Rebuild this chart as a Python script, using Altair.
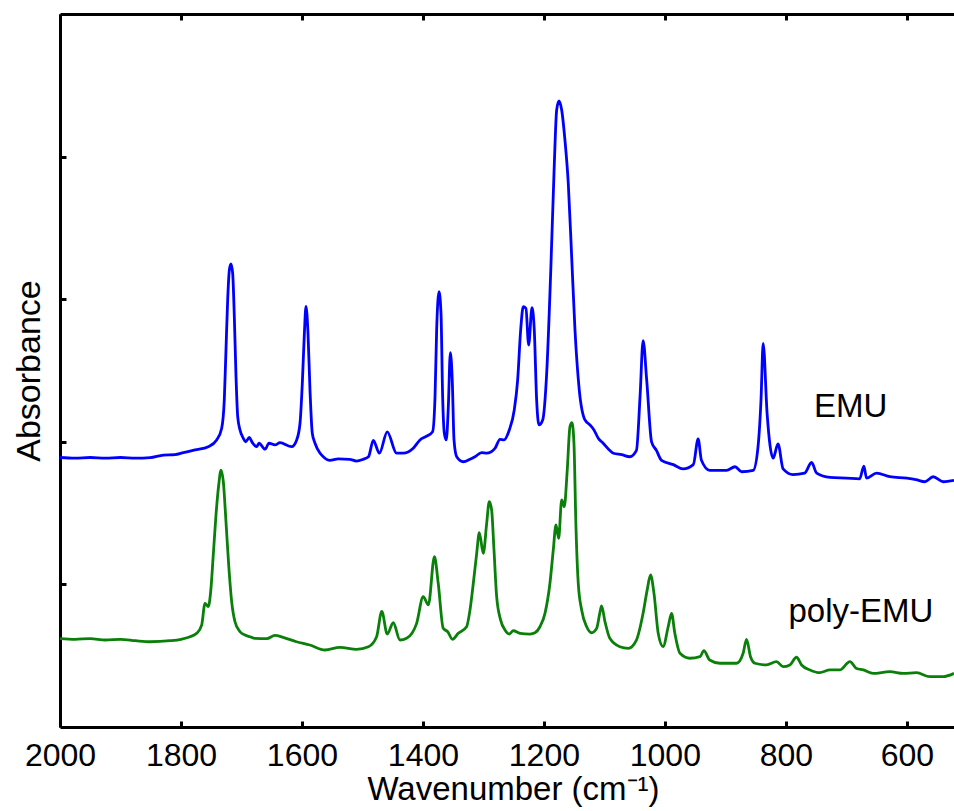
import altair as alt
import pandas as pd

# ---------------- data ----------------
emu_wn = [2000, 1975, 1950, 1925, 1900, 1875, 1851, 1829, 1810, 1796, 1776.8, 1754.8, 1741,
          1732.7, 1728.4, 1725.6, 1722.8, 1720, 1717.3, 1714.5, 1711.8, 1709, 1706.2, 1702.4,
          1697, 1693, 1687, 1682, 1674.8, 1671, 1661, 1654.5, 1644.6, 1636.3, 1617, 1608.7,
          1603.2, 1599.4, 1596, 1593.3, 1590, 1586.7, 1582.9, 1578.4, 1570, 1564.7, 1554, 1540,
          1521, 1510, 1499, 1490, 1482, 1472, 1459, 1443.6, 1432.5, 1416, 1404.9, 1393.8, 1384,
          1380, 1377.3, 1373.4, 1370.1, 1367.4, 1364.6, 1361.4, 1358, 1354.7, 1351.5, 1348.6,
          1344.2, 1333.2, 1322.2, 1314, 1302.9, 1294.6, 1280.9, 1272.6, 1266, 1257.2, 1249,
          1243.4, 1238.4, 1234.1, 1229.7, 1225.2, 1219.7, 1215.9, 1212, 1208.1, 1202, 1195.4,
          1188.8, 1183.3, 1178.9, 1175, 1170.6, 1165.2, 1159.7, 1154.1, 1148.6, 1141.5, 1132.1,
          1123.8, 1117.2, 1110.1, 1102, 1085, 1071.6, 1058, 1047, 1041, 1036, 1030, 1022, 1014,
          1005.5, 986, 970, 953, 945, 939.5, 926, 910, 898, 884, 873, 854, 846, 841, 837.5, 831,
          821, 813, 804.5, 788, 769, 757.5, 749, 727, 700, 678, 671, 666.6, 650, 628, 600, 585,
          570, 556.5, 540, 522]
emu_abs = [1.89, 1.885, 1.89, 1.885, 1.89, 1.885, 1.889, 1.907, 1.91, 1.924, 1.943, 1.966, 2.013,
           2.095, 2.293, 2.644, 2.994, 3.205, 3.247, 3.18, 2.877, 2.456, 2.176, 2.083,
           2.025, 2.0, 2.03, 1.994, 1.966, 1.99, 1.948, 1.99, 1.978, 1.994, 1.966, 2.013,
           2.13, 2.41, 2.76, 2.95, 2.76, 2.363, 2.06, 1.99, 1.92, 1.895, 1.87, 1.88,
           1.877, 1.865, 1.877, 1.895, 2.01, 1.92, 2.07, 1.92, 1.92, 1.955, 2.013, 2.04, 2.071,
           2.316, 2.784, 3.053, 2.9, 2.316, 2.06, 2.013, 2.246, 2.625, 2.433, 2.013,
           1.895, 1.86, 1.877, 1.895, 1.924, 1.92, 1.954, 2.017, 2.013, 2.083, 2.223,
           2.433, 2.784, 2.947, 2.936, 2.679, 2.94, 2.784, 2.293, 2.118, 2.153, 2.48,
           3.182, 3.883, 4.327, 4.39, 4.327, 4.116, 3.813, 3.298, 2.784, 2.363, 2.153,
           2.118, 2.083, 2.025, 1.99, 1.92, 1.91, 1.895, 1.94, 2.32, 2.71, 2.43, 2.00, 1.94,
           1.87, 1.84, 1.81, 1.84, 2.02, 1.87, 1.80, 1.80, 1.80, 1.825, 1.79, 1.80, 1.965, 2.30, 2.69, 2.20,
           1.885, 1.985, 1.81, 1.77, 1.78, 1.855, 1.78, 1.75, 1.745, 1.74, 1.83, 1.745, 1.78, 1.755, 1.745, 1.735,
           1.72, 1.755, 1.72, 1.73]

poly_wn = [2000, 1975, 1950, 1925, 1900, 1875, 1851, 1818, 1800, 1785, 1774, 1765.8, 1760.3,
           1754.8, 1750.9, 1746.6, 1742.1, 1737.6, 1733.8, 1730, 1725.6, 1721.1, 1716.2, 1710.7,
           1702.4, 1694.2, 1685.9, 1677.6, 1658, 1644.6, 1631, 1609, 1587, 1562, 1537, 1509.6,
           1490, 1476.6, 1468, 1459, 1449, 1438, 1427, 1410.4, 1399.5, 1391, 1381, 1374.7, 1366.4,
           1359, 1351, 1341.6, 1327.8, 1322.2, 1316.7, 1311.1, 1306.8, 1300.2, 1294.6, 1290.3,
           1286.4, 1282.5, 1278.1, 1271.5, 1264.3, 1257.2, 1250.6, 1239.5, 1223, 1214.7, 1206.5,
           1198.2, 1190, 1184.5, 1180, 1175.6, 1170.6, 1166.3, 1161.4, 1156.9, 1153.6, 1150.3,
           1147, 1143.2, 1137.6, 1129.3, 1121.1, 1112.8, 1107.5, 1104.6, 1099, 1091, 1074.4,
           1060.7, 1047, 1036, 1029.3, 1023.7, 1018, 1011, 1003, 994.5, 989, 983.5, 975, 958.7,
           942, 935.5, 926, 909, 881.5, 870.6, 865, 858.4, 851, 832, 815.5, 804.5, 793.4, 782.4,
           774, 760, 744, 727, 711, 694, 683, 672, 655.7, 628, 606, 584, 562, 540, 522]
poly_abs = [0.62, 0.615, 0.62, 0.61, 0.615, 0.605, 0.598, 0.605, 0.615, 0.633, 0.657, 0.715, 0.867,
            0.844, 0.949, 1.206, 1.487, 1.697, 1.802, 1.72, 1.44, 1.136, 0.879, 0.738,
            0.668, 0.645, 0.633, 0.622, 0.62, 0.643, 0.629, 0.598, 0.575, 0.54, 0.559, 0.545,
            0.563, 0.633, 0.81, 0.652, 0.731, 0.61, 0.622, 0.727, 0.914, 0.856, 1.194, 1.008, 0.692,
            0.668, 0.615, 0.657, 0.703, 0.82, 1.008, 1.218, 1.363, 1.218, 1.428, 1.58,
            1.522, 1.241, 0.914, 0.75, 0.68, 0.652, 0.675, 0.657, 0.652, 0.661, 0.703,
            0.797, 1.008, 1.241, 1.417, 1.323, 1.592, 1.545, 1.802, 2.106, 2.134, 1.99,
            1.405, 1.008, 0.82, 0.703, 0.661, 0.692, 0.80, 0.849, 0.738, 0.622, 0.563,
            0.552, 0.61, 0.797, 0.96, 1.066, 0.937, 0.657, 0.563, 0.703, 0.797, 0.657, 0.517, 0.482,
            0.493, 0.535, 0.47, 0.447, 0.447, 0.517, 0.615, 0.493, 0.447, 0.435, 0.458, 0.423, 0.435, 0.489,
            0.435, 0.40, 0.381, 0.40, 0.40, 0.458, 0.41, 0.40, 0.376, 0.388, 0.376, 0.381, 0.353, 0.353, 0.376]

x_tick_values = [2000, 1800, 1600, 1400, 1200, 1000, 800, 600]
y_tick_values = [1, 2, 3, 4]

label_text = ["EMU", "poly-EMU"]
label_wn = [692.7, 676.0]
label_abs = [2.176, 0.738]

# ---------------- chart ----------------
FONT = "Liberation Sans"
X_DOMAIN = [522, 2000]
Y_DOMAIN = [0, 5]

emu_df = pd.DataFrame({"wn": emu_wn, "abs": emu_abs})
poly_df = pd.DataFrame({"wn": poly_wn, "abs": poly_abs})
emu_lab = pd.DataFrame({"wn": [label_wn[0]], "abs": [label_abs[0]], "txt": [label_text[0]]})
poly_lab = pd.DataFrame({"wn": [label_wn[1]], "abs": [label_abs[1]], "txt": [label_text[1]]})

xs = alt.Scale(domain=X_DOMAIN, reverse=True, nice=False, zero=False)
ys = alt.Scale(domain=Y_DOMAIN, nice=False, zero=False)

# bottom axis: frame line + labels + title
x_main = alt.Axis(orient="bottom", values=x_tick_values, grid=False, format="d",
                  domain=True, domainColor="black", domainWidth=3,
                  ticks=False, tickSize=0,
                  labels=True, labelFont=FONT, labelFontSize=32, labelColor="black",
                  labelPadding=13, labelFlush=False, labelOverlap=False,
                  title="Wavenumber (cm⁻¹)", titleFont=FONT, titleFontSize=33,
                  titleFontWeight="normal", titleColor="black",
                  titleBaseline="alphabetic", titleY=72, titleX=453)
# bottom inward ticks
x_ticks_b = alt.Axis(orient="bottom", values=x_tick_values, grid=False, offset=-6,
                     domain=False, ticks=True, tickSize=6, tickWidth=3, tickColor="black",
                     labels=False, title=None)
# top frame line
x_top = alt.Axis(orient="top", values=x_tick_values, grid=False,
                 domain=True, domainColor="black", domainWidth=3,
                 ticks=False, tickSize=0, labels=False, title=None)
# top inward ticks
x_ticks_t = alt.Axis(orient="top", values=x_tick_values, grid=False, offset=-6,
                     domain=False, ticks=True, tickSize=6, tickWidth=3, tickColor="black",
                     labels=False, title=None)

y_main = alt.Axis(orient="left", values=y_tick_values, grid=False,
                  domain=True, domainColor="black", domainWidth=3,
                  ticks=False, tickSize=0, labels=False,
                  title="Absorbance", titleFont=FONT, titleFontSize=34,
                  titleFontWeight="normal", titleColor="black",
                  titleAngle=270, titleBaseline="alphabetic", titleX=-21)
y_ticks_l = alt.Axis(orient="left", values=y_tick_values, grid=False, offset=-6,
                     domain=False, ticks=True, tickSize=6, tickWidth=3, tickColor="black",
                     labels=False, title=None)

emu_line = alt.Chart(emu_df).mark_line(color="#0000FF", strokeWidth=2.8,
                                       interpolate="monotone").encode(
    x=alt.X("wn:Q", scale=xs, axis=x_main),
    y=alt.Y("abs:Q", scale=ys, axis=y_main),
)
poly_line = alt.Chart(poly_df).mark_line(color="#0A800A", strokeWidth=2.8,
                                         interpolate="monotone").encode(
    x=alt.X("wn:Q", scale=xs, axis=x_ticks_b),
    y=alt.Y("abs:Q", scale=ys, axis=y_ticks_l),
)
emu_text = alt.Chart(emu_lab).mark_text(font=FONT, fontSize=33, color="black",
                                        align="center", baseline="alphabetic").encode(
    x=alt.X("wn:Q", scale=xs, axis=x_top),
    y=alt.Y("abs:Q", scale=ys, axis=None),
    text="txt:N",
)
poly_text = alt.Chart(poly_lab).mark_text(font=FONT, fontSize=33, color="black",
                                          align="center", baseline="alphabetic").encode(
    x=alt.X("wn:Q", scale=xs, axis=x_ticks_t),
    y=alt.Y("abs:Q", scale=ys, axis=None),
    text="txt:N",
)

chart = alt.layer(emu_line, poly_line, emu_text, poly_text).resolve_axis(
    x="independent", y="independent"
).properties(
    width=894, height=713,
    autosize=alt.AutoSizeParams(type="none"),
    padding={"left": 60, "top": 14, "right": 0, "bottom": 83},
    background="white",
).configure_view(strokeWidth=0)

chart.save("out.html", embed_options={"renderer": "svg", "actions": False})
